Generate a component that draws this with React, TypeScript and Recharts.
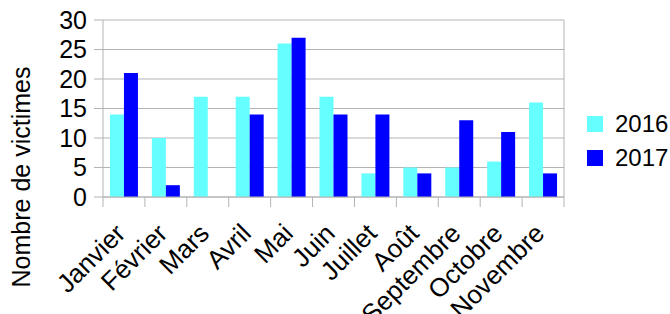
import { BarChart, Bar, XAxis, YAxis, CartesianGrid } from "recharts"

const months = [
  "Janvier",
  "Février",
  "Mars",
  "Avril",
  "Mai",
  "Juin",
  "Juillet",
  "Août",
  "Septembre",
  "Octobre",
  "Novembre",
]
const victims2016 = [14, 10, 17, 17, 26, 17, 4, 5, 5, 6, 16]
const victims2017 = [21, 2, 0, 14, 27, 14, 14, 4, 13, 11, 4]
const yTicks = [0, 5, 10, 15, 20, 25, 30]

const data = months.map((m, i) => ({
  month: m,
  y2016: victims2016[i],
  y2017: victims2017[i],
}))

const FONT = "'Liberation Sans', Arial, sans-serif"
const GRID = "#b3b3b3"
const CYAN = "#66ffff"
const BLUE = "#0000ff"

const PLOT_W = 461

function MonthTick(props: any) {
  const { x, y, payload, index } = props
  const half = PLOT_W / months.length / 2
  const top = y - 8
  const tx = x + 3
  const ty = top + 38
  return (
    <g>
      <line x1={x - half} y1={top} x2={x - half} y2={top + 10} stroke={GRID} />
      {index === months.length - 1 && (
        <line x1={x + half} y1={top} x2={x + half} y2={top + 10} stroke={GRID} />
      )}
      <text
        x={tx}
        y={ty}
        textAnchor="end"
        transform={`rotate(-45, ${tx}, ${ty})`}
        fontSize={26}
        fontFamily={FONT}
        fill="#000"
      >
        {payload.value}
      </text>
    </g>
  )
}

function YTitle(props: any) {
  const { viewBox } = props
  const cx = viewBox.x + 21
  const cy = 177
  return (
    <text
      x={cx}
      y={cy}
      textAnchor="middle"
      dominantBaseline="central"
      transform={`rotate(-90, ${cx}, ${cy})`}
      fontSize={25}
      fontFamily={FONT}
      fill="#000"
    >
      Nombre de victimes
    </text>
  )
}

function SeriesLegend() {
  const items = [
    { label: "2016", color: CYAN },
    { label: "2017", color: BLUE },
  ]
  return (
    <div
      style={{
        position: "absolute",
        left: 587,
        top: 107,
        fontFamily: FONT,
        fontSize: 24,
        color: "#000",
      }}
    >
      {items.map((it) => (
        <div
          key={it.label}
          style={{ display: "flex", alignItems: "center", height: 34 }}
        >
          <span
            style={{
              width: 16,
              height: 16,
              background: it.color,
              display: "inline-block",
              marginRight: 12,
            }}
          />
          <span>{it.label}</span>
        </div>
      ))}
    </div>
  )
}

export default function App() {
  return (
    <div
      style={{
        position: "absolute",
        left: 0,
        top: 0,
        width: 670,
        height: 314,
        background: "#fff",
      }}
    >
      <BarChart
        width={670}
        height={314}
        data={data}
        margin={{ top: 20, right: 0, bottom: 0, left: 0 }}
        barCategoryGap="16.6%"
        barGap={0}
      >
        <CartesianGrid vertical={false} stroke={GRID} yAxisId="left" />
        <XAxis
          dataKey="month"
          interval={0}
          height={117}
          axisLine={{ stroke: GRID }}
          tickLine={false}
          tick={<MonthTick />}
        />
        <YAxis
          yAxisId="left"
          domain={[0, 30]}
          ticks={yTicks}
          interval={0}
          width={103}
          axisLine={{ stroke: GRID }}
          tickLine={{ stroke: GRID }}
          tickSize={9}
          tickMargin={7}
          tick={{ fontSize: 25, fontFamily: FONT, fill: "#000" }}
          label={<YTitle />}
        />
        <YAxis
          yAxisId="right"
          orientation="right"
          domain={[0, 30]}
          width={106}
          tick={false}
          tickLine={false}
          axisLine={{ stroke: GRID }}
        />
        <Bar
          yAxisId="left"
          dataKey="y2016"
          name="2016"
          fill={CYAN}
          isAnimationActive={false}
        />
        <Bar
          yAxisId="left"
          dataKey="y2017"
          name="2017"
          fill={BLUE}
          isAnimationActive={false}
        />
      </BarChart>
      <SeriesLegend />
    </div>
  )
}
